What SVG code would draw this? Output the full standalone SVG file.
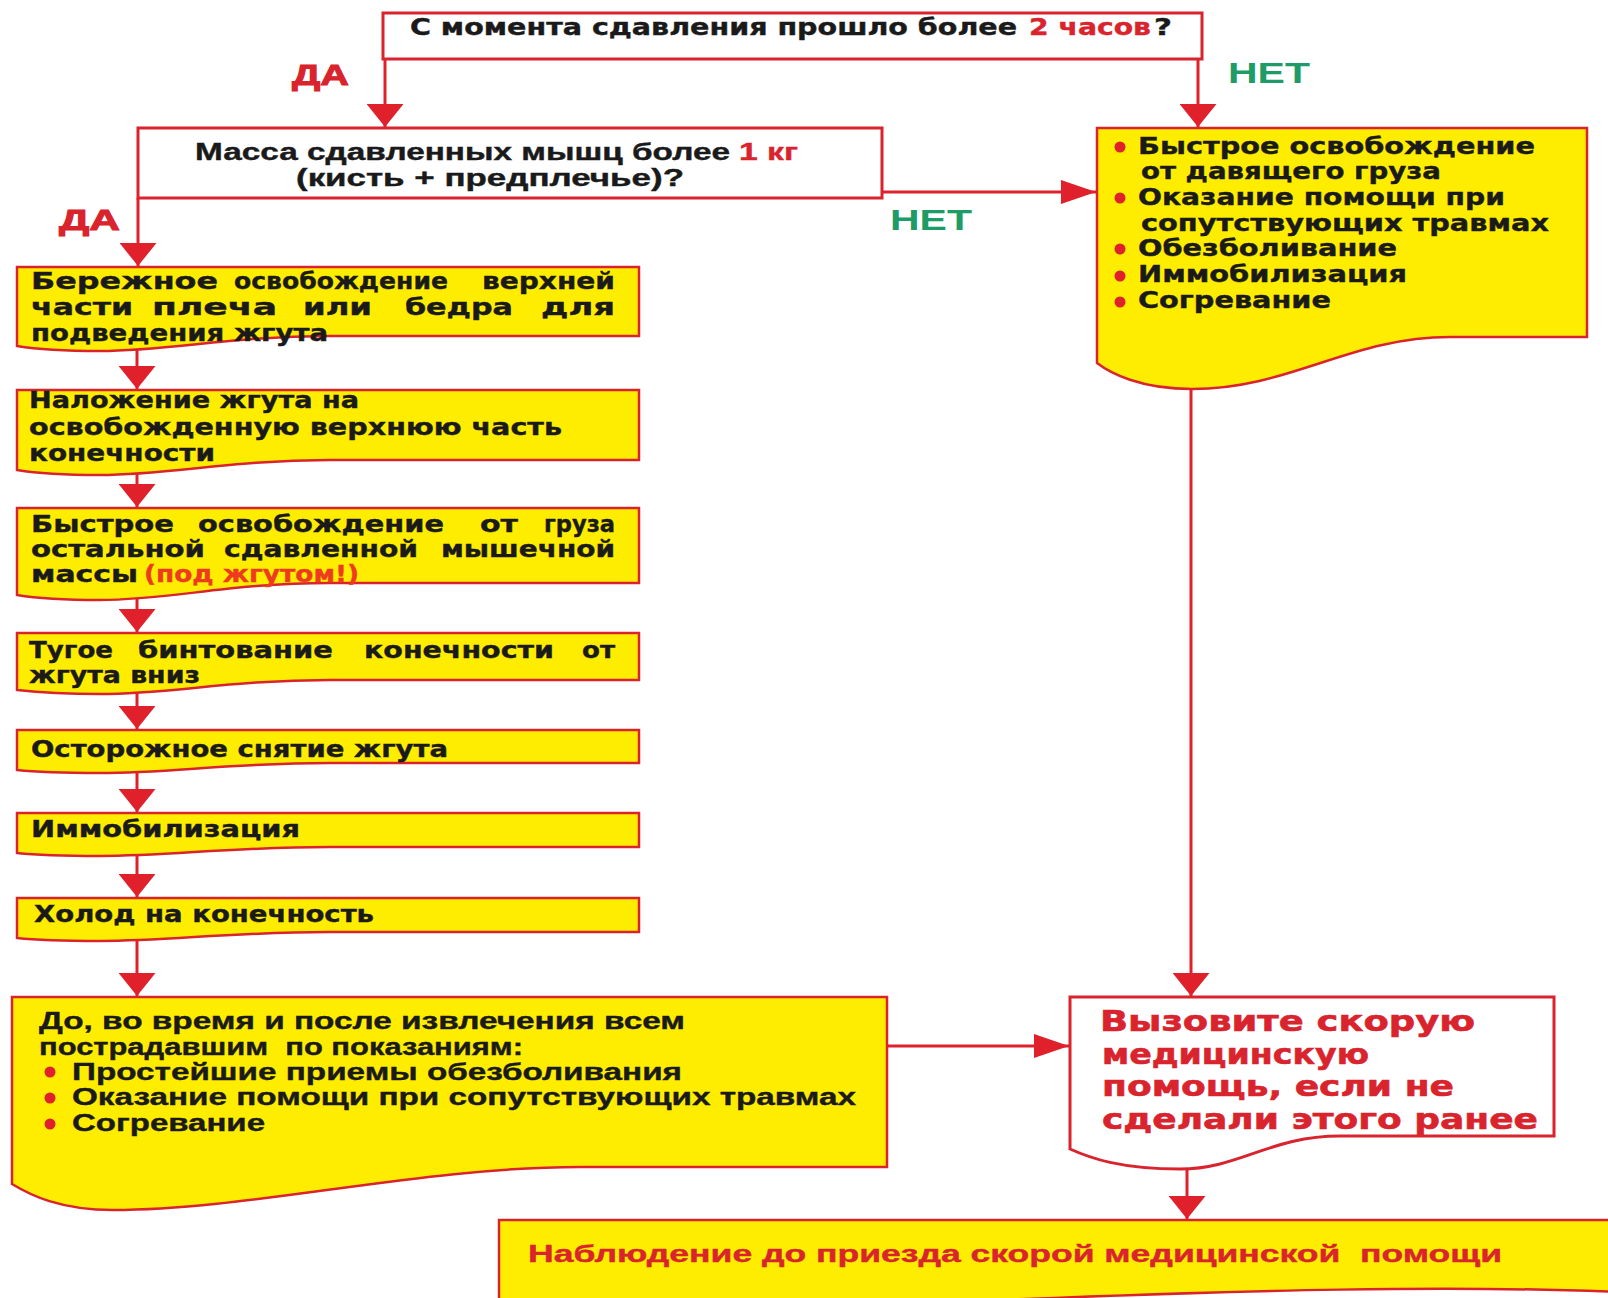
<svg xmlns="http://www.w3.org/2000/svg" width="1608" height="1298" viewBox="0 0 1608 1298">
<style>
.box{fill:#FFED00;stroke:#D9232D;stroke-width:2.5}
.wbox{fill:#FFFFFF;stroke:#D9232D;stroke-width:3}
.conn{stroke:#E0202A;stroke-width:3;fill:none}
.w{font-family:"DejaVu Sans","Liberation Sans",sans-serif;font-weight:bold;font-size:23px;fill:#1A1A1A;stroke:#1A1A1A;stroke-width:0.4}
.a{font-family:"Liberation Sans",Arial,sans-serif;font-weight:bold;font-size:24px;fill:#1A1A1A;stroke:#1A1A1A;stroke-width:0.4}
.red{fill:#D9232D;stroke:#D9232D}
.org{fill:#EE3A1E;stroke:#EE3A1E}
.grn{fill:#1E9B66}
.lbl{font-family:"Liberation Sans",Arial,sans-serif;font-weight:bold;font-size:30px}
.big{font-family:"DejaVu Sans","Liberation Sans",sans-serif;font-weight:bold;font-size:29px;fill:#D9232D;stroke:#D9232D;stroke-width:0.6}
.dot{fill:#E0202A}
</style>
<defs>
<marker id="ah" viewBox="0 0 23 37" refX="23" refY="18.5" markerWidth="23" markerHeight="37" markerUnits="userSpaceOnUse" orient="auto"><path d="M0,0 L23,18.5 L0,37 Z" fill="#E0202A"/></marker>
<marker id="ahh" viewBox="0 0 35 24" refX="35" refY="12" markerWidth="35" markerHeight="24" markerUnits="userSpaceOnUse" orient="auto"><path d="M0,0 L35,12 L0,24 Z" fill="#E0202A"/></marker>
</defs>

<g id="connectors">
<path class="conn" d="M385,59 V127" marker-end="url(#ah)"/>
<path class="conn" d="M1198,59 V127" marker-end="url(#ah)"/>
<path class="conn" d="M882,192 H1096" marker-end="url(#ahh)"/>
<path class="conn" d="M138,198 V266" marker-end="url(#ah)"/>
<path class="conn" d="M137,346 V389" marker-end="url(#ah)"/>
<path class="conn" d="M137,470 V507" marker-end="url(#ah)"/>
<path class="conn" d="M137,595 V632" marker-end="url(#ah)"/>
<path class="conn" d="M137,690 V729" marker-end="url(#ah)"/>
<path class="conn" d="M137,770 V812" marker-end="url(#ah)"/>
<path class="conn" d="M137,853 V897" marker-end="url(#ah)"/>
<path class="conn" d="M137,938 V996" marker-end="url(#ah)"/>
<path class="conn" d="M1191,388 V996" marker-end="url(#ah)"/>
<path class="conn" d="M887,1046 H1069" marker-end="url(#ahh)"/>
<path class="conn" d="M1187,1168 V1219" marker-end="url(#ah)"/>
</g>

<g id="labels">
<text class="lbl red" x="292" y="85" textLength="57" lengthAdjust="spacingAndGlyphs">ДА</text>
<text class="lbl grn" x="1228" y="83" textLength="82" lengthAdjust="spacingAndGlyphs">НЕТ</text>
<text class="lbl grn" x="890" y="230" textLength="82" lengthAdjust="spacingAndGlyphs">НЕТ</text>
<text class="lbl red" x="59" y="230" textLength="61" lengthAdjust="spacingAndGlyphs">ДА</text>
</g>

<g id="q1">
<rect class="wbox" x="383" y="13" width="819" height="46"/>
<text class="w" x="410" y="35" textLength="607" lengthAdjust="spacingAndGlyphs">С момента сдавления прошло более</text>
<text class="w red" x="1029" y="35" textLength="122" lengthAdjust="spacingAndGlyphs">2 часов</text>
<text class="w" x="1154" y="35" textLength="18" lengthAdjust="spacingAndGlyphs">?</text>
</g>

<g id="q2">
<rect class="wbox" x="138" y="128" width="744" height="70"/>
<text class="a" x="195" y="160" textLength="535" lengthAdjust="spacingAndGlyphs">Масса сдавленных мышц более</text>
<text class="a red" x="739" y="160" textLength="59" lengthAdjust="spacingAndGlyphs">1 кг</text>
<text class="a" x="296" y="186" textLength="388" lengthAdjust="spacingAndGlyphs">(кисть + предплечье)?</text>
</g>

<g id="no-branch">
<path class="box" d="M1097,128 H1587 V337 H1450 C1350,337 1290,389 1192,389 C1140,389 1110,373 1097,363 Z"/>
<circle class="dot" cx="1120" cy="147" r="5.5"/>
<circle class="dot" cx="1120" cy="198" r="5.5"/>
<circle class="dot" cx="1120" cy="249" r="5.5"/>
<circle class="dot" cx="1120" cy="276" r="5.5"/>
<circle class="dot" cx="1120" cy="302" r="5.5"/>
<text class="w" x="1138" y="154" textLength="397" lengthAdjust="spacingAndGlyphs">Быстрое освобождение</text>
<text class="w" x="1141" y="179" textLength="300" lengthAdjust="spacingAndGlyphs">от давящего груза</text>
<text class="w" x="1138" y="205" textLength="367" lengthAdjust="spacingAndGlyphs">Оказание помощи при</text>
<text class="w" x="1141" y="231" textLength="408" lengthAdjust="spacingAndGlyphs">сопутствующих травмах</text>
<text class="w" x="1138" y="256" textLength="259" lengthAdjust="spacingAndGlyphs">Обезболивание</text>
<text class="w" x="1138" y="282" textLength="269" lengthAdjust="spacingAndGlyphs">Иммобилизация</text>
<text class="w" x="1138" y="308" textLength="193" lengthAdjust="spacingAndGlyphs">Согревание</text>
</g>

<g id="step1">
<path class="box" d="M17,267 H639 V336 H330 C230,336 170,351 100,351 C60,351 35,349 17,346 Z"/>
<text class="w" x="31" y="289" textLength="187" lengthAdjust="spacingAndGlyphs">Бережное</text>
<text class="w" x="234" y="289" textLength="214" lengthAdjust="spacingAndGlyphs">освобождение</text>
<text class="w" x="482" y="289" textLength="133" lengthAdjust="spacingAndGlyphs">верхней</text>
<text class="w" x="31" y="315" textLength="102" lengthAdjust="spacingAndGlyphs">части</text>
<text class="w" x="152" y="315" textLength="125" lengthAdjust="spacingAndGlyphs">плеча</text>
<text class="w" x="303" y="315" textLength="69" lengthAdjust="spacingAndGlyphs">или</text>
<text class="w" x="405" y="315" textLength="108" lengthAdjust="spacingAndGlyphs">бедра</text>
<text class="w" x="541" y="315" textLength="74" lengthAdjust="spacingAndGlyphs">для</text>
<text class="w" x="31" y="341" textLength="297" lengthAdjust="spacingAndGlyphs">подведения жгута</text>
</g>

<g id="step2">
<path class="box" d="M17,390 H639 V460 H330 C230,460 170,475 100,475 C60,475 35,473 17,470 Z"/>
<text class="w" x="29" y="408" textLength="330" lengthAdjust="spacingAndGlyphs">Наложение жгута на</text>
<text class="w" x="29" y="435" textLength="533" lengthAdjust="spacingAndGlyphs">освобожденную верхнюю часть</text>
<text class="w" x="29" y="461" textLength="186" lengthAdjust="spacingAndGlyphs">конечности</text>
</g>

<g id="step3">
<path class="box" d="M17,508 H639 V583 H330 C230,583 170,600 100,600 C60,600 35,598 17,595 Z"/>
<text class="w" x="31" y="532" textLength="143" lengthAdjust="spacingAndGlyphs">Быстрое</text>
<text class="w" x="198" y="532" textLength="246" lengthAdjust="spacingAndGlyphs">освобождение</text>
<text class="w" x="480" y="532" textLength="38" lengthAdjust="spacingAndGlyphs">от</text>
<text class="w" x="544" y="532" textLength="71" lengthAdjust="spacingAndGlyphs">груза</text>
<text class="w" x="31" y="557" textLength="174" lengthAdjust="spacingAndGlyphs">остальной</text>
<text class="w" x="224" y="557" textLength="194" lengthAdjust="spacingAndGlyphs">сдавленной</text>
<text class="w" x="441" y="557" textLength="174" lengthAdjust="spacingAndGlyphs">мышечной</text>
<text class="w" x="31" y="582" textLength="107" lengthAdjust="spacingAndGlyphs">массы</text>
<text class="w org" x="144" y="582" textLength="215" lengthAdjust="spacingAndGlyphs">(под жгутом!)</text>
</g>

<g id="step4">
<path class="box" d="M17,633 H639 V680 H330 C230,680 170,694 100,694 C60,694 35,692 17,690 Z"/>
<text class="w" x="29" y="658" textLength="84" lengthAdjust="spacingAndGlyphs">Тугое</text>
<text class="w" x="138" y="658" textLength="195" lengthAdjust="spacingAndGlyphs">бинтование</text>
<text class="w" x="364" y="658" textLength="190" lengthAdjust="spacingAndGlyphs">конечности</text>
<text class="w" x="582" y="658" textLength="33" lengthAdjust="spacingAndGlyphs">от</text>
<text class="w" x="29" y="683" textLength="171" lengthAdjust="spacingAndGlyphs">жгута вниз</text>
</g>

<g id="step5">
<path class="box" d="M17,730 H639 V763 H330 C230,763 170,773 100,773 C60,773 35,772 17,770 Z"/>
<text class="w" x="31" y="757" textLength="417" lengthAdjust="spacingAndGlyphs">Осторожное снятие жгута</text>
</g>

<g id="step6">
<path class="box" d="M17,813 H639 V847 H330 C230,847 170,856 100,856 C60,856 35,855 17,853 Z"/>
<text class="w" x="31" y="837" textLength="269" lengthAdjust="spacingAndGlyphs">Иммобилизация</text>
</g>

<g id="step7">
<path class="box" d="M17,898 H639 V932 H330 C230,932 170,941 100,941 C60,941 35,940 17,938 Z"/>
<text class="w" x="34" y="922" textLength="340" lengthAdjust="spacingAndGlyphs">Холод на конечность</text>
</g>

<g id="during-extraction">
<path class="box" d="M12,997 H887 V1167 H580 C420,1167 250,1210 113,1210 C60,1210 30,1195 12,1184 Z"/>
<text class="a" x="39" y="1029" textLength="646" lengthAdjust="spacingAndGlyphs">До, во время и после извлечения всем</text>
<text class="a" x="39" y="1055" textLength="484" lengthAdjust="spacingAndGlyphs" xml:space="preserve">пострадавшим  по показаниям:</text>
<circle class="dot" cx="50" cy="1072" r="5.5"/>
<circle class="dot" cx="50" cy="1098" r="5.5"/>
<circle class="dot" cx="50" cy="1124" r="5.5"/>
<text class="a" x="72" y="1080" textLength="610" lengthAdjust="spacingAndGlyphs">Простейшие приемы обезболивания</text>
<text class="a" x="72" y="1105" textLength="784" lengthAdjust="spacingAndGlyphs">Оказание помощи при сопутствующих травмах</text>
<text class="a" x="72" y="1131" textLength="193" lengthAdjust="spacingAndGlyphs">Согревание</text>
</g>

<g id="call-ambulance">
<path class="wbox" d="M1070,997 H1554 V1136 H1340 C1270,1136 1240,1169 1180,1169 C1120,1169 1090,1158 1070,1149 Z"/>
<text class="big" x="1100" y="1031" textLength="375" lengthAdjust="spacingAndGlyphs">Вызовите скорую</text>
<text class="big" x="1102" y="1064" textLength="267" lengthAdjust="spacingAndGlyphs">медицинскую</text>
<text class="big" x="1102" y="1096" textLength="352" lengthAdjust="spacingAndGlyphs">помощь, если не</text>
<text class="big" x="1102" y="1129" textLength="436" lengthAdjust="spacingAndGlyphs">сделали этого ранее</text>
</g>

<g id="observation">
<path class="box" d="M499,1220 H1620 V1292 C1450,1285 1250,1290 1000,1300 L499,1310 Z"/>
<text class="a red" x="528" y="1262" textLength="974" lengthAdjust="spacingAndGlyphs" xml:space="preserve">Наблюдение до приезда скорой медицинской  помощи</text>
</g>
</svg>
